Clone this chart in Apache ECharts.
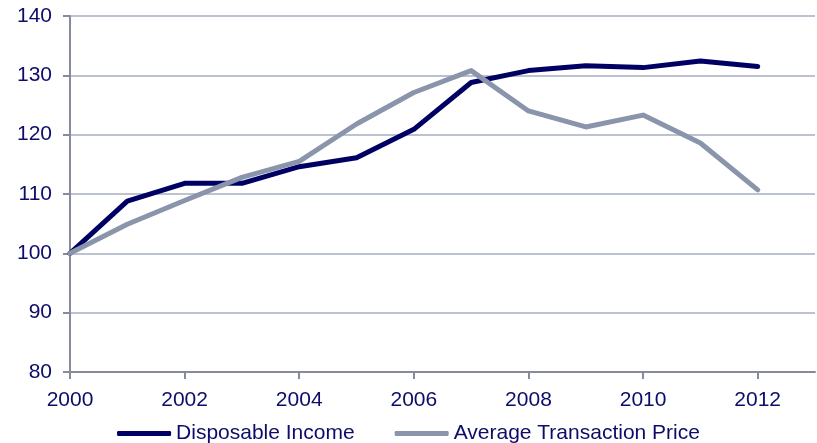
<!DOCTYPE html>
<html>
<head>
<meta charset="utf-8">
<script src="https://cdn.jsdelivr.net/npm/echarts@6/dist/echarts.min.js"></script>
<style>
  html, body { margin: 0; padding: 0; background: #ffffff; }
  #chart { width: 817px; height: 443px; }
</style>
</head>
<body>
<div id="chart"></div>
<script>
// Index values, 2000 = 100
const years = [2000, 2001, 2002, 2003, 2004, 2005, 2006, 2007, 2008, 2009, 2010, 2011, 2012];
const disposableIncome = [100, 108.8, 111.8, 111.8, 114.6, 116.1, 120.9, 128.8, 130.8, 131.6, 131.3, 132.4, 131.5];
const avgTransactionPrice = [100, 104.9, 108.9, 112.8, 115.5, 121.8, 127.1, 130.8, 124.0, 121.3, 123.3, 118.6, 110.7];
const xTickYears = [2000, 2002, 2004, 2006, 2008, 2010, 2012];

const textColor = '#0c0c6a';
const font = '"Liberation Sans", Arial, sans-serif';

const chart = echarts.init(document.getElementById('chart'), null, { renderer: 'canvas' });

const pair = (vals) => years.map((y, i) => [y, vals[i]]);

chart.setOption({
  animation: false,
  backgroundColor: '#ffffff',
  grid: { left: 70, right: 2, top: 16, bottom: 71 },
  legend: {
    top: 423,
    left: 'center',
    itemWidth: 54,
    itemHeight: 5,
    itemGap: 40,
    icon: 'roundRect',
    textStyle: { color: textColor, fontSize: 21, fontFamily: font, lineHeight: 21, padding: [0, 0, 0, 0] },
    padding: 0,
    data: ['Disposable Income', 'Average Transaction Price']
  },
  xAxis: {
    type: 'value',
    min: 2000,
    max: 2013,
    interval: 2,
    axisLine: { show: true, lineStyle: { color: '#878b9d', width: 2 } },
    axisTick: { show: true, length: 7, customValues: xTickYears, lineStyle: { color: '#878b9d', width: 2 } },
    axisLabel: {
      customValues: xTickYears,
      margin: 18,
      color: textColor,
      fontSize: 21,
      fontFamily: font,
      formatter: (v) => String(v)
    },
    splitLine: { show: false }
  },
  yAxis: {
    type: 'value',
    min: 80,
    max: 140,
    interval: 10,
    axisLine: { show: true, lineStyle: { color: '#878b9d', width: 2 } },
    axisTick: { show: true, length: 7, lineStyle: { color: '#878b9d', width: 2 } },
    axisLabel: { margin: 18, color: textColor, fontSize: 21, fontFamily: font },
    splitLine: { show: true, lineStyle: { color: '#bcc2d0', width: 2 } }
  },
  series: [
    {
      name: 'Disposable Income',
      type: 'line',
      data: pair(disposableIncome),
      symbol: 'none',
      lineStyle: { color: '#000064', width: 5, cap: 'round', join: 'round' },
      itemStyle: { color: '#000064' }
    },
    {
      name: 'Average Transaction Price',
      type: 'line',
      data: pair(avgTransactionPrice),
      symbol: 'none',
      lineStyle: { color: '#8a95ab', width: 5, cap: 'round', join: 'round' },
      itemStyle: { color: '#8a95ab' }
    }
  ]
});
</script>
</body>
</html>
